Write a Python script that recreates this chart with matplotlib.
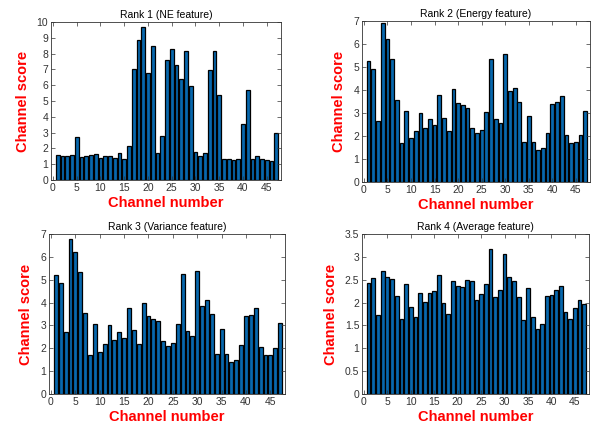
import numpy as np
import matplotlib.pyplot as plt
from matplotlib.ticker import FormatStrFormatter

plt.rcParams['font.family'] = ['Liberation Sans', 'DejaVu Sans']

channels = np.arange(1, 48)

ne_score = [1.6, 1.5, 1.5, 1.6, 2.7, 1.45, 1.5, 1.6, 1.65, 1.4, 1.5, 1.5, 1.4, 1.7, 1.35, 2.15,
            7.05, 8.85, 9.7, 6.8, 8.45, 1.7, 2.8, 7.6, 8.3, 7.25, 6.4, 8.15, 5.95, 1.75, 1.55,
            1.7, 6.95, 8.15, 5.35, 1.35, 1.3, 1.25, 1.35, 3.55, 5.7, 1.35, 1.55, 1.35, 1.25, 1.2, 3.0]
energy_score = [5.25, 4.9, 2.65, 6.9, 6.2, 5.35, 3.55, 1.7, 3.1, 1.9, 2.2, 3.0, 2.35, 2.75, 2.5, 3.8,
                2.8, 2.2, 4.05, 3.45, 3.35, 3.2, 2.35, 2.15, 2.25, 3.05, 5.35, 2.75, 2.55, 5.55, 3.95,
                4.1, 3.5, 1.75, 2.85, 1.75, 1.4, 1.5, 2.15, 3.4, 3.5, 3.75, 2.05, 1.7, 1.75, 2.05, 3.1]
variance_score = [5.2, 4.85, 2.7, 6.8, 6.2, 5.35, 3.55, 1.7, 3.05, 1.85, 2.2, 3.0, 2.35, 2.7, 2.45, 3.75,
                  2.8, 2.2, 4.0, 3.4, 3.3, 3.2, 2.3, 2.1, 2.25, 3.05, 5.25, 2.75, 2.55, 5.4, 3.85,
                  4.1, 3.5, 1.75, 2.85, 1.75, 1.4, 1.5, 2.15, 3.4, 3.45, 3.75, 2.05, 1.7, 1.7, 2.0, 3.1]
average_score = [2.42, 2.53, 1.73, 2.68, 2.55, 2.52, 2.14, 1.65, 2.41, 1.9, 1.69, 2.2, 2.02, 2.2, 2.26, 2.6,
                 1.98, 1.76, 2.47, 2.36, 2.34, 2.49, 2.47, 2.06, 2.19, 2.4, 3.18, 2.13, 2.28, 3.06, 2.55,
                 2.48, 2.13, 1.62, 2.32, 1.68, 1.43, 1.53, 2.14, 2.16, 2.27, 2.37, 1.79, 1.63, 1.89, 2.06, 1.97]

titles = ['Rank 1 (NE feature)', 'Rank 2 (Energy feature)',
          'Rank 3 (Variance feature)', 'Rank 4 (Average feature)']
ylims = [10, 7, 7, 3.5]
ysteps = [1, 1, 1, 0.5]

# axes boxes in pixels: left, right, top, bottom
boxes = [(51, 281, 22, 180), (362, 590, 21, 182),
         (49, 285, 234, 394), (362, 589, 234, 394)]
W, H = 595, 433

fig = plt.figure(figsize=(5.95, 4.33), dpi=100)
for data, title, ymax, step, (l, r, t, b) in zip(
        [ne_score, energy_score, variance_score, average_score], titles, ylims, ysteps, boxes):
    ax = fig.add_axes([l / W, 1 - b / H, (r - l) / W, (b - t) / H])
    ax.bar(channels, data, width=0.8, color='#0868ad', edgecolor='black', linewidth=0.9)
    ax.set_xlim(-0.4, 48)
    ax.set_ylim(0, ymax)
    ax.set_xticks(np.arange(0, 46, 5))
    ax.set_yticks(np.arange(0, ymax + step / 2, step))
    ax.yaxis.set_major_formatter(FormatStrFormatter('%g'))
    ax.tick_params(direction='in', top=True, right=True, labelsize=7.5, colors='#333333',
                   length=3, width=0.5, pad=2)
    for s in ax.spines.values():
        s.set_linewidth(0.6)
        s.set_color('#333333')
    ax.set_title(title, fontsize=7.5, pad=3)
    ax.set_xlabel('Channel number', color='red', fontsize=10.5, fontweight='bold', labelpad=2)
    ax.set_ylabel('Channel score', color='red', fontsize=10.5, fontweight='bold', labelpad=5)

plt.savefig('out.png', dpi=100)
